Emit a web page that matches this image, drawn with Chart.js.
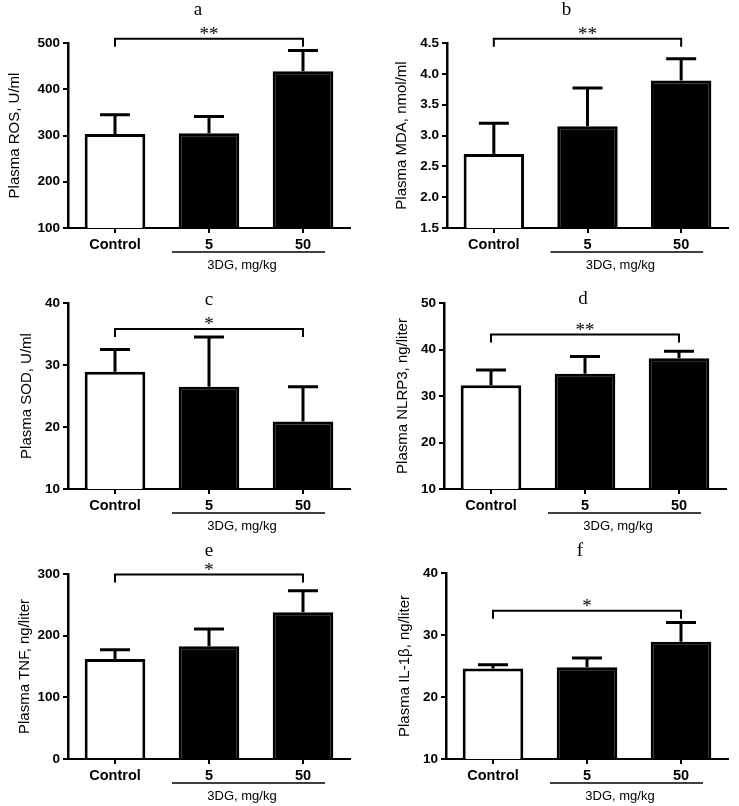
<!DOCTYPE html>
<html>
<head>
<meta charset="utf-8">
<script src="https://cdn.jsdelivr.net/npm/chart.js@4.4.1/dist/chart.umd.min.js"></script>
<style>
  html, body { margin: 0; padding: 0; background: #fff; }
  #wrap { position: relative; width: 739px; height: 806px; background: #fff; overflow: hidden; }
  #wrap canvas { position: absolute; }
</style>
</head>
<body>
<div id="wrap"></div>
<script>
// ---------- data ----------
const categories = ['Control', '5', '50'];
const groupLabel = '3DG, mg/kg';
const panelLetters = ['a', 'b', 'c', 'd', 'e', 'f'];
const yTitles = ['Plasma ROS, U/ml', 'Plasma MDA, nmol/ml', 'Plasma SOD, U/ml',
                 'Plasma NLRP3, ng/liter', 'Plasma TNF, ng/liter', 'Plasma IL-1\u03B2, ng/liter'];
const sigMarks = ['**', '**', '*', '**', '*', '*'];

const rosMean = [303, 305, 439];    const rosErr = [42, 36, 45];
const mdaMean = [2.70, 3.15, 3.89]; const mdaErr = [0.50, 0.62, 0.355];
const sodMean = [28.9, 26.5, 20.9]; const sodErr = [3.6, 8.0, 5.6];
const nlrMean = [32.3, 34.8, 38.1]; const nlrErr = [3.3, 3.7, 1.5];
const tnfMean = [162, 183, 238];    const tnfErr = [15, 28, 35];
const ilMean  = [24.6, 24.8, 28.9]; const ilErr  = [0.6, 1.5, 3.1];

const yMin  = [100, 1.5, 10, 10, 0, 10];
const yMax  = [500, 4.5, 40, 50, 300, 40];
const yStep = [100, 0.5, 10, 10, 100, 10];
const yDecimals = [0, 1, 0, 0, 0, 0];
// value (in data units) at which the significance bracket sits
const bracketLevel = [509, 4.57, 35.8, 43.2, 299, 33.9];

const means = [rosMean, mdaMean, sodMean, nlrMean, tnfMean, ilMean];
const errs  = [rosErr, mdaErr, sodErr, nlrErr, tnfErr, ilErr];

// ---------- layout (positions / sizes only) ----------
const boxes = [
  { left: 0,   top: 0,   w: 370, h: 285, padL: 2,    yW: 66,   padT: 43, padR: 20, plotH: 185, titleDx: -11, titleDy: -33 },
  { left: 370, top: 0,   w: 369, h: 285, padL: 18.7, yW: 58.3, padT: 43, padR: 11, plotH: 185, titleDx: -21, titleDy: -33 },
  { left: 0,   top: 270, w: 370, h: 275, padL: 14,   yW: 54,   padT: 33, padR: 20, plotH: 186, titleDx: 0,   titleDy: -3 },
  { left: 370, top: 270, w: 369, h: 275, padL: 20,   yW: 54,   padT: 33, padR: 13, plotH: 186, titleDx: -2,  titleDy: -4 },
  { left: 0,   top: 530, w: 370, h: 276, padL: 12,   yW: 56,   padT: 44, padR: 20, plotH: 185, titleDx: 0,   titleDy: -23 },
  { left: 370, top: 530, w: 369, h: 276, padL: 22,   yW: 54,   padT: 43, padR: 11, plotH: 186, titleDx: -7,  titleDy: -22 }
];

const SANS = '"Liberation Sans", Arial, sans-serif';
const SERIF = '"Liberation Serif", "Times New Roman", serif';

const annotPlugin = {
  id: 'annot',
  afterDatasetsDraw(chart, args, opts) {
    const { ctx, chartArea } = chart;
    const y = chart.scales.y;
    const k = opts.k, b = opts.box;
    const meta = chart.getDatasetMeta(0);
    const cxs = meta.data.map(e => e.x);
    ctx.save();
    ctx.strokeStyle = '#000';
    ctx.fillStyle = '#000';
    // error bars (upper only)
    ctx.lineWidth = 3;
    ctx.lineCap = 'butt';
    means[k].forEach((m, i) => {
      const cx = cxs[i];
      const yb = y.getPixelForValue(m);
      const yt = y.getPixelForValue(m + errs[k][i]);
      ctx.beginPath();
      ctx.moveTo(cx, yb); ctx.lineTo(cx, yt - 1.5);
      ctx.moveTo(cx - 15, yt); ctx.lineTo(cx + 15, yt);
      ctx.stroke();
    });
    // significance bracket
    const by = y.getPixelForValue(bracketLevel[k]);
    ctx.lineWidth = 2;
    ctx.beginPath();
    ctx.moveTo(cxs[0], by + 8); ctx.lineTo(cxs[0], by);
    ctx.lineTo(cxs[2], by); ctx.lineTo(cxs[2], by + 8);
    ctx.stroke();
    ctx.font = '19px ' + SERIF;
    ctx.textAlign = 'center';
    ctx.textBaseline = 'alphabetic';
    ctx.fillText(sigMarks[k], (cxs[0] + cxs[2]) / 2, by + 1);
    // group underline + label
    const ly = chartArea.bottom + 24;
    ctx.lineWidth = 1.5;
    ctx.beginPath();
    ctx.moveTo(cxs[1] - 37, ly); ctx.lineTo(cxs[2] + 22, ly);
    ctx.stroke();
    ctx.font = '13px ' + SANS;
    ctx.textBaseline = 'middle';
    ctx.fillText(groupLabel, (cxs[1] + cxs[2]) / 2 - 14, chartArea.bottom + 37);
    // panel letter
    ctx.font = '19px ' + SERIF;
    ctx.textBaseline = 'middle';
    ctx.fillText(panelLetters[k], (chartArea.left + chartArea.right) / 2 + b.titleDx, chartArea.top + b.titleDy);
    ctx.restore();
  }
};

const wrap = document.getElementById('wrap');
boxes.forEach((b, k) => {
  const cv = document.createElement('canvas');
  cv.width = b.w; cv.height = b.h;
  cv.style.left = b.left + 'px'; cv.style.top = b.top + 'px';
  cv.style.width = b.w + 'px'; cv.style.height = b.h + 'px';
  wrap.appendChild(cv);
  const xH = b.h - b.padT - b.plotH;
  new Chart(cv, {
    type: 'bar',
    data: {
      labels: categories,
      datasets: [{
        data: means[k],
        backgroundColor: ['#ffffff', '#000000', '#000000'],
        borderColor: '#000000',
        borderWidth: 3,
        borderSkipped: 'start',
        categoryPercentage: 1,
        barPercentage: 0.645
      }]
    },
    options: {
      responsive: false,
      animation: false,
      devicePixelRatio: 1,
      layout: { padding: { left: b.padL, right: b.padR, top: b.padT, bottom: 0 } },
      plugins: {
        legend: { display: false },
        tooltip: { enabled: false },
        annot: { k: k, box: b }
      },
      scales: {
        x: {
          offset: true,
          grid: { display: true, offset: false, drawOnChartArea: false, drawTicks: true, tickLength: 5, color: '#000', lineWidth: 2 },
          border: { display: true, color: '#000', width: 2 },
          ticks: { color: '#000', padding: 3, font: { family: SANS, size: 14.5, weight: 'bold' }, maxRotation: 0 },
          afterFit: s => { s.height = xH; }
        },
        y: {
          min: yMin[k], max: yMax[k],
          grid: { display: true, drawOnChartArea: false, drawTicks: true, tickLength: 5, color: '#000', lineWidth: 2 },
          border: { display: true, color: '#000', width: 2.5 },
          ticks: {
            stepSize: yStep[k], color: '#000', padding: 3,
            font: { family: SANS, size: 13.5, weight: 'bold' },
            callback: v => Number(v).toFixed(yDecimals[k])
          },
          title: { display: true, text: yTitles[k], color: '#000', padding: 4, font: { family: SANS, size: 15 } },
          afterFit: s => { s.width = b.yW; }
        }
      }
    },
    plugins: [annotPlugin]
  });
});
</script>
</body>
</html>
